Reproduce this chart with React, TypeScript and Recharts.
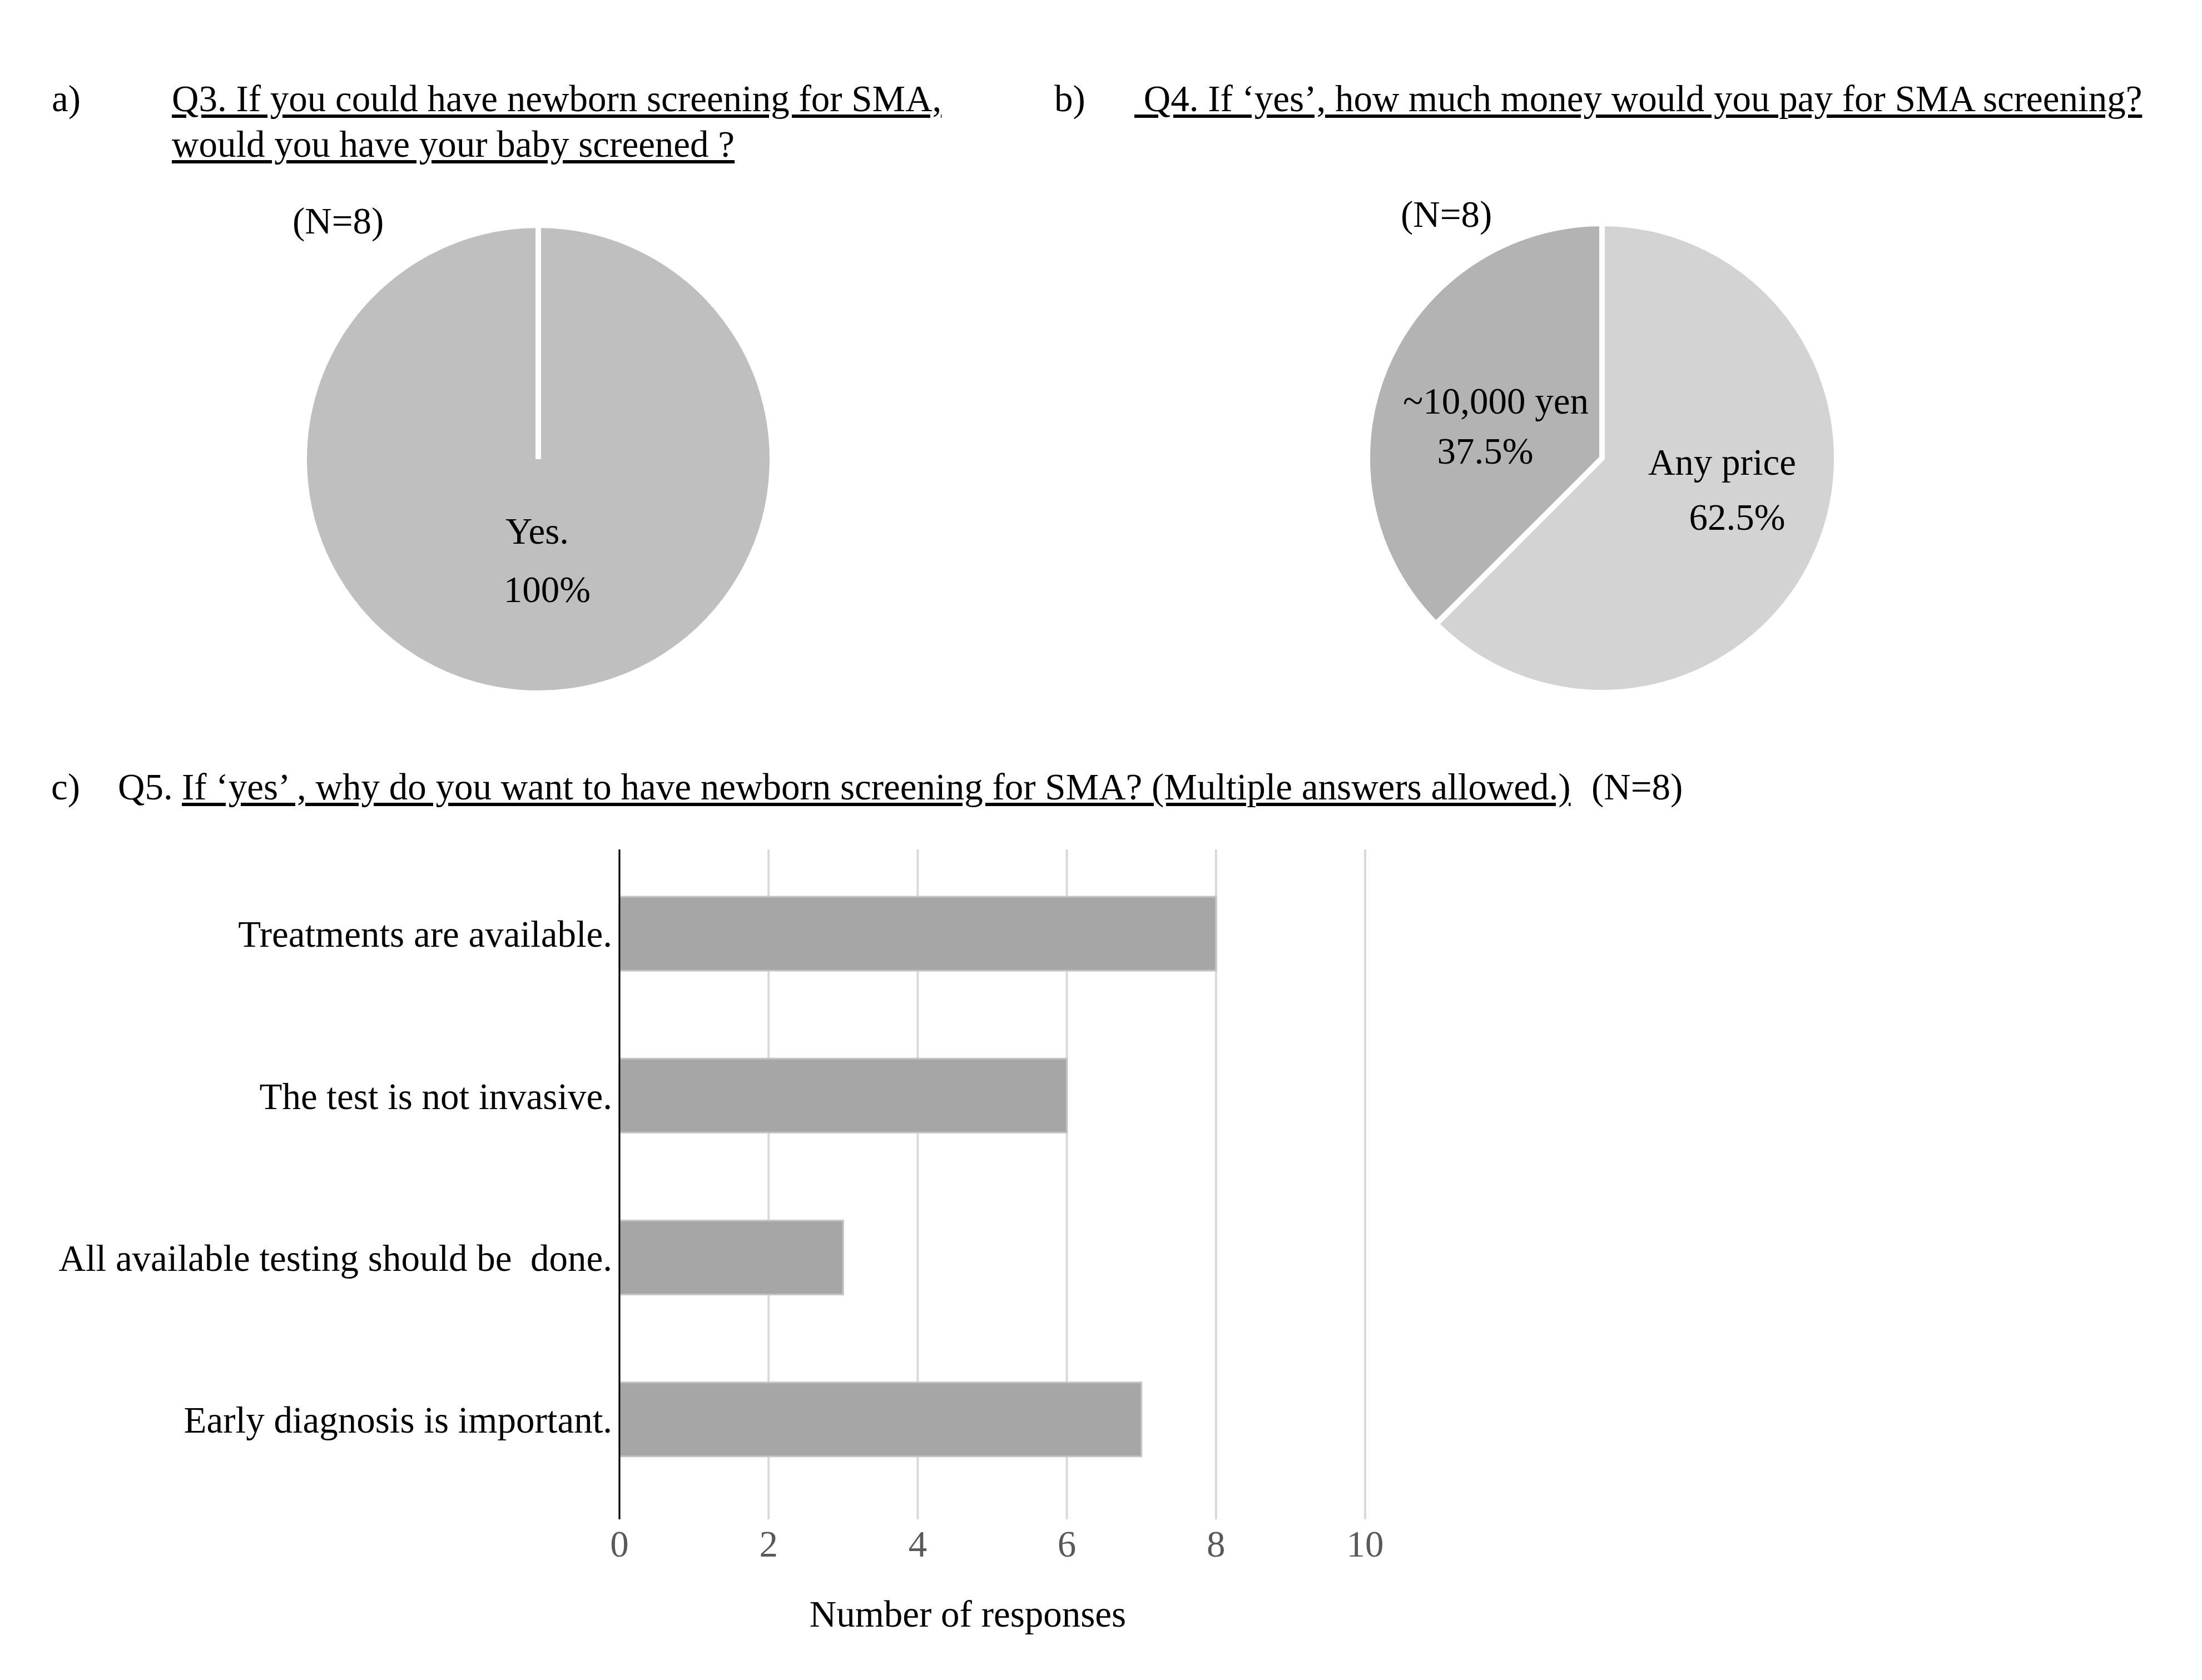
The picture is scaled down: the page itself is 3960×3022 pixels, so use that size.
import React from 'react';
import { PieChart, Pie, Cell, BarChart, Bar, XAxis, YAxis, CartesianGrid, Label } from 'recharts';

const FONT = '"Liberation Serif", "Times New Roman", serif';
const FS = 67;

// ---- data ----
const q3Names = ['Yes.'];
const q3Values = [100];
const q3Colors = ['#bfbfbf'];

const q4Names = ['Any price', '~10,000 yen'];
const q4Values = [62.5, 37.5];
const q4Colors = ['#d3d3d3', '#b3b3b3'];

const q5Reasons = [
  'Treatments are available.',
  'The test is not invasive.',
  'All available testing should be\u00a0 done.',
  'Early diagnosis is important.',
];
const q5Counts = [8, 6, 3, 7];
const xTicks = [0, 2, 4, 6, 8, 10];

// ---- label placement (style, relative to pie centre) ----
const q3LabelPos = [{ nx: -2, ny: 152, px: 16, py: 257 }];
const q4LabelPos = [
  { nx: 216, ny: 30, px: 243, py: 129 },
  { nx: -191, ny: -80, px: -210, py: 10 },
];

const q3Data = q3Names.map((name, i) => ({ name, value: q3Values[i] }));
const q4Data = q4Names.map((name, i) => ({ name, value: q4Values[i] }));
const q5Data = q5Reasons.map((reason, i) => ({ reason, count: q5Counts[i] }));

const fmtPct = (v: number) => (Number.isInteger(v) ? `${v}%` : `${v.toFixed(1)}%`);

const makeLabel = (pos: any[]) => (props: any) => {
  const { cx, cy, index, name, value } = props;
  const p = pos[index];
  return (
    <g>
      <text x={cx + p.nx} y={cy + p.ny} textAnchor="middle" fontFamily={FONT} fontSize={FS} fill="#000">
        {name}
      </text>
      <text x={cx + p.px} y={cy + p.py} textAnchor="middle" fontFamily={FONT} fontSize={FS} fill="#000">
        {fmtPct(value)}
      </text>
    </g>
  );
};

const txt = (baseline: number, left: number, content: React.ReactNode, underline = false) => (
  <div
    style={{
      position: 'absolute',
      left,
      top: baseline - 56,
      fontFamily: FONT,
      fontSize: FS,
      lineHeight: `${FS}px`,
      whiteSpace: 'pre',
      color: '#000',
      textDecoration: underline ? 'underline' : 'none',
      textDecorationThickness: '6px',
      textUnderlineOffset: '6px',
    }}
  >
    {content}
  </div>
);

export default function App() {
  return (
    <div style={{ position: 'absolute', left: 0, top: 0, width: 3960, height: 3022, background: '#fff', overflow: 'hidden' }}>
      {/* titles */}
      {txt(200, 93, 'a)')}
      {txt(200, 309, 'Q3. If you could have newborn screening for SMA,', true)}
      {txt(282, 309, 'would you have your baby screened ?', true)}
      {txt(200, 1896, 'b)')}
      {txt(200, 2040, ' Q4. If \u2018yes\u2019, how much money would you pay for SMA screening?', true)}
      {txt(420, 526, '(N=8)')}
      {txt(408, 2519, '(N=8)')}
      {txt(1438, 92, 'c)')}
      {txt(1438, 212, 'Q5.')}
      {txt(1438, 327, 'If \u2018yes\u2019 , why do you want to have newborn screening for SMA? (Multiple answers allowed.)', true)}
      {txt(1438, 2862, '(N=8)')}

      {/* pie a */}
      <div style={{ position: 'absolute', left: 463, top: 321 }}>
        <PieChart width={1000} height={1000}>
          <Pie
            data={q3Data}
            dataKey="value"
            nameKey="name"
            cx={500}
            cy={500}
            outerRadius={421}
            startAngle={90}
            endAngle={-270}
            stroke="#ffffff"
            strokeWidth={10}
            isAnimationActive={false}
            labelLine={false}
            label={makeLabel(q3LabelPos)}
          >
            {q3Data.map((d, i) => (
              <Cell key={d.name} fill={q3Colors[i]} />
            ))}
          </Pie>
        </PieChart>
      </div>

      {/* pie b */}
      <div style={{ position: 'absolute', left: 2376, top: 319 }}>
        <PieChart width={1000} height={1000}>
          <Pie
            data={q4Data}
            dataKey="value"
            nameKey="name"
            cx={500}
            cy={500}
            outerRadius={422}
            startAngle={90}
            endAngle={-270}
            stroke="#ffffff"
            strokeWidth={10}
            isAnimationActive={false}
            labelLine={false}
            label={makeLabel(q4LabelPos)}
          >
            {q4Data.map((d, i) => (
              <Cell key={d.name} fill={q4Colors[i]} />
            ))}
          </Pie>
        </PieChart>
      </div>

      {/* bar chart c */}
      <div style={{ position: 'absolute', left: 0, top: 1480 }}>
        <BarChart
          width={2600}
          height={1520}
          data={q5Data}
          layout="vertical"
          margin={{ top: 48, right: 145, bottom: 74, left: 0 }}
          barSize={133}
        >
          <CartesianGrid horizontal={false} vertical stroke="#d9d9d9" strokeWidth={4} />
          <XAxis
            type="number"
            domain={[0, 10]}
            ticks={xTicks}
            axisLine={false}
            tickLine={false}
            tickMargin={13}
            height={193}
            tick={{ fill: '#595959', fontSize: FS, fontFamily: FONT }}
          >
            <Label
              value="Number of responses"
              position="insideBottom"
              offset={0}
              dx={-44}
              style={{ fill: '#000', fontSize: FS, fontFamily: FONT }}
            />
          </XAxis>
          <YAxis
            type="category"
            dataKey="reason"
            width={1114}
            axisLine={{ stroke: '#000', strokeWidth: 3 }}
            tickLine={false}
            tickMargin={7}
            padding={{ top: 6, bottom: 34 }}
            interval={0}
            tick={{ fill: '#000', fontSize: FS, fontFamily: FONT }}
          />
          <Bar dataKey="count" fill="#a6a6a6" stroke="#c4c4c4" strokeWidth={3} isAnimationActive={false} />
        </BarChart>
      </div>
    </div>
  );
}
